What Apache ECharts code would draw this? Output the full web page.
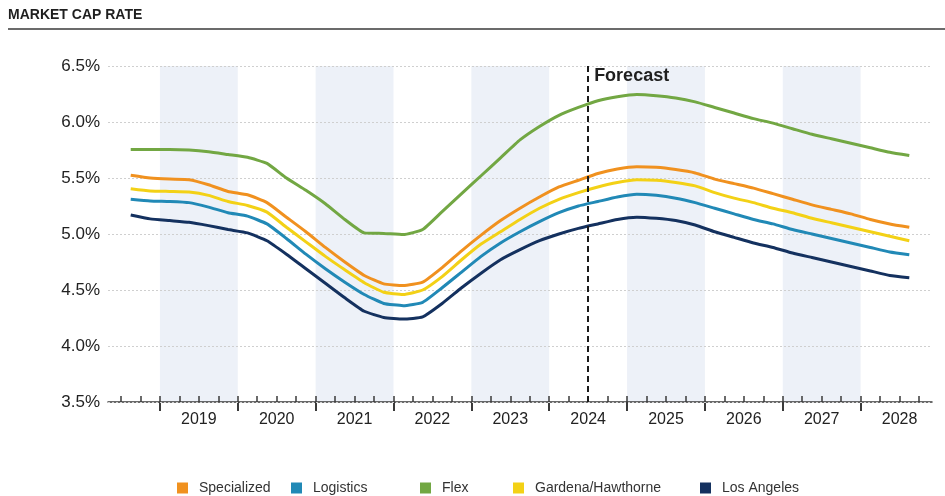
<!DOCTYPE html>
<html>
<head>
<meta charset="utf-8">
<script src="https://cdn.jsdelivr.net/npm/echarts@6/dist/echarts.min.js"></script>
<style>
html,body{margin:0;padding:0;background:#ffffff;}
#chart{width:945px;height:496px;}
</style>
</head>
<body>
<div id="chart"></div>
<script>
// ---------------- DATA ----------------
const quarters = [
  '2018 Q3','2018 Q4',
  '2019 Q1','2019 Q2','2019 Q3','2019 Q4',
  '2020 Q1','2020 Q2','2020 Q3','2020 Q4',
  '2021 Q1','2021 Q2','2021 Q3','2021 Q4',
  '2022 Q1','2022 Q2','2022 Q3','2022 Q4',
  '2023 Q1','2023 Q2','2023 Q3','2023 Q4',
  '2024 Q1','2024 Q2','2024 Q3','2024 Q4',
  '2025 Q1','2025 Q2','2025 Q3','2025 Q4',
  '2026 Q1','2026 Q2','2026 Q3','2026 Q4',
  '2027 Q1','2027 Q2','2027 Q3','2027 Q4',
  '2028 Q1','2028 Q2','2028 Q3'
];
const specialized = [
  5.525, 5.50,
  5.49, 5.485, 5.44, 5.38,
  5.35, 5.28, 5.15, 5.02,
  4.88, 4.75, 4.63, 4.555,
  4.54, 4.57, 4.70, 4.85,
  4.99, 5.12, 5.23, 5.33,
  5.42, 5.48, 5.54, 5.58,
  5.60, 5.595, 5.575, 5.545,
  5.49, 5.45, 5.41, 5.36,
  5.31, 5.26, 5.22, 5.18,
  5.13, 5.09, 5.06
];
const logistics = [
  5.31, 5.295,
  5.29, 5.28, 5.24, 5.19,
  5.16, 5.09, 4.96, 4.82,
  4.69, 4.57, 4.46, 4.38,
  4.36, 4.39, 4.52, 4.66,
  4.80, 4.92, 5.02, 5.11,
  5.19, 5.25, 5.29, 5.33,
  5.355, 5.345, 5.32, 5.28,
  5.23, 5.18, 5.13, 5.09,
  5.04, 5.00, 4.96, 4.92,
  4.88, 4.84, 4.815
];
const flex = [
  5.755, 5.755,
  5.755, 5.75, 5.735, 5.71,
  5.685, 5.63, 5.50, 5.39,
  5.27, 5.13, 5.01, 5.005,
  4.995, 5.04, 5.20, 5.36,
  5.52, 5.68, 5.84, 5.96,
  6.06, 6.13, 6.19, 6.225,
  6.245, 6.235, 6.215, 6.18,
  6.13, 6.08, 6.03, 5.99,
  5.94, 5.89, 5.85, 5.81,
  5.77, 5.73, 5.70
];
const gardenaHawthorne = [
  5.405, 5.385,
  5.38, 5.375, 5.345, 5.29,
  5.255, 5.195, 5.06, 4.93,
  4.80, 4.68, 4.565, 4.48,
  4.46, 4.50, 4.62, 4.77,
  4.91, 5.02, 5.13, 5.23,
  5.31, 5.37, 5.42, 5.46,
  5.485, 5.48, 5.46, 5.43,
  5.37, 5.32, 5.28, 5.23,
  5.19, 5.14, 5.10, 5.06,
  5.02, 4.98, 4.94
];
const losAngeles = [
  5.17, 5.135,
  5.12, 5.105, 5.075, 5.04,
  5.01, 4.94, 4.82, 4.69,
  4.56, 4.43, 4.31, 4.255,
  4.24, 4.26, 4.38, 4.52,
  4.65, 4.77, 4.86, 4.94,
  5.00, 5.05, 5.09, 5.13,
  5.15, 5.14, 5.12, 5.08,
  5.02, 4.97, 4.92, 4.88,
  4.83, 4.79, 4.75, 4.71,
  4.67, 4.63, 4.61
];
const seriesNames = ['Specialized', 'Logistics', 'Flex', 'Gardena/Hawthorne', 'Los Angeles'];
const yearLabels = ['2019','2020','2021','2022','2023','2024','2025','2026','2027','2028'];
const forecastStart = '2024 Q3';
const axisStartMonth = '2018-05';   // axis begins in May 2018
const axisEndMonth = '2028-12';     // axis ends at start of Dec 2028
const yMin = 3.5, yMax = 6.5, yStep = 0.5;

// ---------------- HELPERS ----------------
const BASE_YEAR = 2018;
function monthIndex(ym) { const [y, m] = ym.split('-').map(Number); return (y - BASE_YEAR) * 12 + (m - 1); }
function quarterStart(q) { const [y, qq] = q.split(' Q').map(Number); return (y - BASE_YEAR) * 12 + (qq - 1) * 3; }
function quarterMid(q) { return quarterStart(q) + 1.5; }

const M0 = monthIndex(axisStartMonth);
const M1 = monthIndex(axisEndMonth);
const firstYear = Number(yearLabels[0]);
const lastYear = Number(yearLabels[yearLabels.length - 1]);

// layout
const PLOT_L = 108, PLOT_R = 932, PLOT_T = 66, PLOT_B = 402, W = 945, H = 496;
const pxPerMonth = (PLOT_R - PLOT_L) / (M1 - M0);
function monthPx(m) { return PLOT_L + (m - M0) * pxPerMonth; }

// quarter tick range (quarter starts inside axis)
const qTickMin = Math.ceil(M0 / 3) * 3;
const qTickMax = Math.floor(M1 / 3) * 3;
// year tick range
const yTickMin = (firstYear - BASE_YEAR) * 12;
const yTickMax = (lastYear - BASE_YEAR) * 12;

const colors = {
  'Specialized': '#F0911F',
  'Logistics': '#2189B6',
  'Flex': '#72A743',
  'Gardena/Hawthorne': '#F3D116',
  'Los Angeles': '#14315F'
};
const valuesByName = {
  'Specialized': specialized,
  'Logistics': logistics,
  'Flex': flex,
  'Gardena/Hawthorne': gardenaHawthorne,
  'Los Angeles': losAngeles
};

const forecastM = quarterStart(forecastStart);

const series = ['Flex', 'Specialized', 'Gardena/Hawthorne', 'Logistics', 'Los Angeles'].map(function (name) {
  const s = {
    name: name,
    type: 'line',
    xAxisIndex: 0,
    yAxisIndex: 0,
    data: quarters.map(function (q, i) { return [quarterMid(q), valuesByName[name][i]]; }),
    showSymbol: false,
    smooth: 0.15,
    lineStyle: { width: 3, color: colors[name] },
    itemStyle: { color: colors[name] },
    z: 3
  };
  if (name === 'Flex') {
    s.markLine = {
      silent: true,
      symbol: ['none', 'none'],
      label: { show: false },
      lineStyle: { color: '#1a1a1a', type: [6, 4], width: 2 },
      data: [{ xAxis: forecastM }],
      z: 5
    };
  }
  return s;
});

// legends: one per item, positioned like the reference
const legendLefts = [177, 291, 420, 513, 700];
const legends = seriesNames.map(function (name, i) {
  return {
    data: [name],
    left: legendLefts[i],
    top: 481,
    padding: 0,
    icon: 'rect',
    itemWidth: 11,
    itemHeight: 11,
    selectedMode: false,
    textStyle: { fontSize: 14, color: '#333', fontFamily: 'Liberation Sans, Arial, sans-serif', padding: [0, 0, 0, 6] }
  };
});

const chart = echarts.init(document.getElementById('chart'), null, { renderer: 'canvas' });
chart.setOption({
  animation: false,
  backgroundColor: '#ffffff',
  textStyle: { fontFamily: 'Liberation Sans, Arial, sans-serif' },
  legend: legends,
  grid: [
    { left: PLOT_L, right: W - PLOT_R, top: PLOT_T, bottom: H - PLOT_B, containLabel: false },
    { left: monthPx(qTickMin), right: W - monthPx(qTickMax), top: PLOT_T, bottom: H - PLOT_B, containLabel: false },
    { left: monthPx(yTickMin), right: W - monthPx(yTickMax), top: PLOT_T, bottom: H - PLOT_B, containLabel: false }
  ],
  xAxis: [
    {
      gridIndex: 0, type: 'value', min: M0, max: M1, interval: 1,
      axisLine: { show: true, onZero: false, lineStyle: { color: '#3a3a3a', width: 1.5 } },
      axisTick: { show: false },
      splitLine: { show: false },
      axisLabel: {
        show: true, margin: 10, fontSize: 16, color: '#222',
        showMinLabel: true, showMaxLabel: true,
        formatter: function (v) {
          if ((v - 6) % 12 !== 0) return '';
          const yr = BASE_YEAR + (v - 6) / 12;
          const s = String(yr);
          return yearLabels.indexOf(s) >= 0 ? s : '';
        }
      }
    },
    {
      gridIndex: 1, type: 'value', min: qTickMin, max: qTickMax, interval: 3,
      axisLine: { show: false },
      axisTick: { show: true, inside: true, length: 6, lineStyle: { color: '#3a3a3a', width: 1.5 } },
      axisLabel: { show: false },
      splitLine: { show: false }
    },
    {
      gridIndex: 2, type: 'value', min: yTickMin, max: yTickMax, interval: 12,
      axisLine: { show: false },
      axisTick: { show: true, inside: false, length: 9, lineStyle: { color: '#3a3a3a', width: 2 } },
      axisLabel: { show: false },
      splitLine: { show: false },
      splitArea: { show: true, areaStyle: { color: ['#EDF1F8', 'rgba(255,255,255,0)'] } }
    }
  ],
  yAxis: [
    {
      gridIndex: 0, type: 'value', min: yMin, max: yMax, interval: yStep, z: 2,
      axisLine: { show: false },
      axisTick: { show: false },
      axisLabel: { margin: 8, fontSize: 17, color: '#222', formatter: function (v) { return v.toFixed(1) + '%'; } },
      splitLine: { show: true, lineStyle: { color: '#cfcfcf', width: 1, type: [2, 2] } }
    },
    { gridIndex: 1, type: 'value', min: yMin, max: yMax, show: false },
    { gridIndex: 2, type: 'value', min: yMin, max: yMax, show: false }
  ],
  graphic: [
    { type: 'text', left: 8, top: 8, style: { text: 'MARKET CAP RATE', font: 'bold 14px Liberation Sans, Arial, sans-serif', fill: '#1f1f1f' } },
    { type: 'line', shape: { x1: 8, y1: 29, x2: 945, y2: 29 }, style: { stroke: '#3a3a3a', lineWidth: 1.5 } },
    { type: 'text', left: monthPx(forecastM) + 6, top: PLOT_T + 1, z: 10, style: { text: 'Forecast', font: 'bold 18px Liberation Sans, Arial, sans-serif', fill: '#1f1f1f' } }
  ],
  series: series
});
</script>
</body>
</html>
